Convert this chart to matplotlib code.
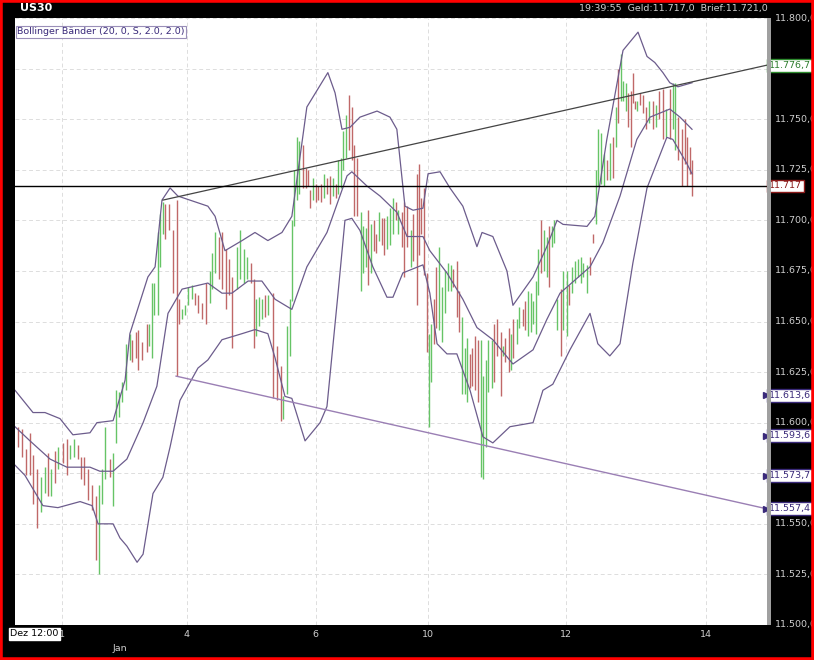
import matplotlib
matplotlib.use("Agg")
import matplotlib.pyplot as plt
from matplotlib.ticker import FixedLocator

# ---- bars (time position, high, low, up?) ----
bar_t = [0.9,2.2,3.6,5,6.1,7.2,8.7,10,10.9,11.9,13.3,14.4,15.9,17.2,18.3,19.8,20.9,22,23.1,24.2,25.6,27,28.1,29.1,30,31.7,32.8,33.6,34.7,35.8,
         37,38.3,39.1,40.2,41.1,42.4,43.9,44.8,45.6,46.4,47.6,48.3,49.2,50,51.3,52.8,53.9,54.7,55.6,56.7,57.8,58.9,60,61.1,62.2,63.6,65,65.6,66.7,68,
         68.9,70.2,71.3,72.4,73.9,75,76.4,77.4,78.7,79.7,80.2,81.3,82.2,83.3,84.4,85.9,87.2,88.7,89.4,90.6,91.7,
         92.2,93,94.1,94.7,95.9,97,97.7,98.5,99.4,100.3,101.1,101.9,103.1,104.1,105,106.1,107,107.7,108.6,109.4,110.5,111.4,112.2,113,114.1,115.2,
         116.1,117,117.7,118.6,119.7,120.5,121.4,122.2,123.1,124.1,125,126.1,127,127.7,128.9,129.7,130.7,131.9,132.7,133.9,134.7,135.5,136.3,137.2,138,
         138.6,139.7,140.5,141.4,142.5,143.3,144.4,145.2,146.1,147.2,148.1,148.9,150,150.7,151.6,152.5,153.3,154.4,155.2,156.1,157,157.7,158.9,159.6,160.7,
         161.9,162.7,163.5,164.7,165.5,166.1,167.2,168.1,169.2,170,171.1,171.9,172.7,173.6,174.4,175.5,176.4,177.2,178.1,178.9,179.6,180.7,
         181.9,182.8,183.9,184.8,185.6,186.7,187.8,188.6,189.4,190.6,191.7,192.8,193.7,
         194.4,195.2,196.3,197.4,198.3,199.2,200.3,201.1,201.9,202.8,203.7,204.4,205.2,206.1,206.7,207.4,208.3,209.2,210.3,211.4,212.6,213.7,214.8,215.9,
         217,218.3,219.4,220,221.1,222.2,223.3,224.1,225,225.8]
bar_hi = [11598,11597,11587,11595,11584,11577,11573,11578,11585,11577,11586,11588,11590,11592,11589,11592,11589,11583,11583,11577,11569,11564,11569,11577,11598,11582,11585,11616,11615,11620,
          11639,11644,11641,11645,11646,11640,11649,11649,11669,11669,11694,11703,11709,11708,11708,11695,11710,11661,11656,11658,11667,11668,11664,11663,11659,11669,11675,11684,11694,11692,
          11694,11686,11681,11672,11687,11695,11686,11682,11679,11671,11661,11662,11661,11663,11663,11664,11638,11628,11613,11648,11661,
          11700,11725,11741,11739,11737,11726,11725,11715,11721,11718,11717,11718,11723,11721,11722,11721,11718,11730,11731,11744,11752,11762,11756,11737,11731,11704,
          11697,11696,11705,11698,11700,11693,11704,11701,11701,11702,11706,11711,11709,11705,11704,11709,11707,11695,11703,11723,11728,11711,11716,11674,11644,
          11649,11661,11677,11687,11667,11675,11679,11678,11676,11680,11665,11652,11637,11642,11634,11637,11643,11641,11641,11623,11631,11641,11641,11649,11651,
          11645,11638,11642,11647,11644,11651,11651,11657,11656,11660,11665,11664,11660,11670,11686,11700,11695,11692,11697,11697,11700,11661,
          11666,11675,11675,11668,11677,11680,11681,11682,11679,11678,11682,11693,11725,
          11745,11743,11733,11730,11738,11741,11756,11775,11782,11769,11768,11763,11764,11773,11759,11759,11763,11762,11756,11759,11759,11757,11764,11765,
          11755,11765,11768,11768,11751,11745,11750,11741,11736,11730]
bar_lo = [11588,11583,11574,11574,11560,11548,11556,11565,11564,11564,11570,11577,11580,11574,11582,11583,11582,11572,11569,11562,11557,11532,11525,11560,11572,11573,11559,11590,11603,11610,
          11616,11631,11630,11632,11626,11631,11635,11638,11632,11653,11653,11677,11693,11691,11695,11664,11623,11649,11651,11653,11658,11661,11658,11654,11651,11649,11659,11666,11674,11671,
          11666,11656,11663,11637,11666,11671,11669,11671,11669,11637,11643,11648,11651,11652,11653,11612,11611,11601,11602,11614,11633,
          11660,11697,11710,11713,11716,11716,11717,11706,11710,11709,11710,11709,11711,11713,11708,11712,11711,11713,11716,11725,11731,11735,11730,11702,11702,11665,
          11674,11677,11668,11674,11685,11684,11690,11688,11683,11686,11688,11693,11700,11693,11687,11672,11687,11677,11680,11658,11683,11693,11673,11635,11598,
          11620,11639,11647,11646,11640,11654,11665,11665,11667,11652,11645,11614,11614,11610,11617,11618,11616,11610,11573,11572,11588,11615,11617,11620,11633,
          11613,11633,11630,11625,11626,11632,11639,11647,11648,11646,11643,11645,11649,11644,11663,11674,11675,11672,11667,11687,11689,11646,
          11633,11646,11643,11658,11664,11669,11672,11669,11672,11664,11673,11689,11698,
          11717,11718,11717,11720,11720,11721,11736,11748,11759,11759,11754,11746,11736,11758,11755,11754,11757,11753,11745,11748,11745,11746,11750,11740,
          11741,11740,11745,11735,11730,11717,11728,11717,11723,11712]
bar_up = "rrrrrrggrgrgrrggrrrrrrgggrggggggrrrrrggggggrrrrrggggrrrrgggrrrrrgggg" \
         "rrgggrgrrrggg" \
         "ggggrrrrgrrrgrrgrggggrrrrgggrgrrgrrgggrgrrrgrrrrrrggrrgggggrrrgggrrrrgggggrrrgrrgrggrrgggggrggrgggr" \
         "ggrggggggrrggg" \
         "grgrgrgggrrrrgrrrgrgrrgrggrrrrrrr"

# ---- Bollinger bands (sampled) ----
up_t = [0,6,10,15,19.3,25,27.3,32.7,36.7,38.3,44.3,46.7,49,51.7,54.3,64.3,66.7,70,75.7,80,84.3,89,92.3,97.3,104.3,106.7,109,111.7,115,120.7,125,127.3,
        130,132.7,136,137.7,141.7,145,149.3,154,155.7,159.3,164,166,172.7,177.3,180.7,182.7,190.7,193.3,197.3,202.7,207.7,210.7,213.3,216,218.3,221,225.7]
up_v = [11616,11605,11605,11602,11594,11595,11600,11601,11621,11644,11672,11677,11710,11716,11712,11707,11702,11685,11690,11694,11690,11694,11702,11756,11773,11763,11745,11746,11751,11754,11751,11745,
        11707,11705,11706,11723,11724,11716,11707,11687,11694,11692,11675,11658,11672,11687,11700,11698,11697,11702,11740,11784,11793,11781,11778,11773,11768,11766,11768]
mid_t = [0,5,11.7,17.3,25,28.3,32.7,37.3,42.7,47.3,51,55.7,64.3,69,72.3,77.7,82.3,86.7,92.3,97.3,104,110.7,112.3,117.3,121.7,127.3,130.7,136,138.3,144,149.3,154,
         159.3,166,172.7,177.3,181.7,191.7,196,201.7,207.3,211.7,218.3,221.7,225.7]
mid_v = [11598,11591,11582,11578,11578,11576,11576,11582,11600,11618,11654,11666,11669,11664,11664,11670,11670,11661,11656,11677,11694,11722,11724,11717,11712,11704,11692,11692,11685,11674,11661,11647,
         11641,11629,11636,11651,11664,11677,11689,11712,11740,11751,11755,11751,11745]
low_t = [0,3.3,9.3,14.3,21.7,25.7,27.7,32.7,35,37.3,40.7,42.7,46,49.3,51.7,55,61,64.3,69,75.7,80,84.3,86.7,90,92.3,96.7,101.7,104,107.7,110,112.3,115,119.3,124,126,
         129.3,136,138.3,140.7,144,147.3,151.7,156,159.3,165,172.7,176,179.3,185,191.7,194.3,198.3,201.7,206,210.7,217.3,219.3,224,225.7]
low_v = [11579,11574,11559,11558,11561,11559,11550,11550,11543,11539,11531,11535,11565,11573,11588,11611,11627,11631,11641,11644,11646,11644,11632,11613,11612,11591,11600,11608,11664,11700,11701,11695,11677,11662,11662,
         11674,11678,11664,11639,11634,11634,11616,11593,11590,11598,11600,11616,11619,11636,11654,11639,11633,11639,11679,11716,11741,11740,11728,11723]

# ---- trend lines / levels ----
upper_trend_t = [49.3, 250.7]
upper_trend_v = [11710, 11776.7]
lower_trend_t = [53.7, 250.7]
lower_trend_v = [11623, 11557.4]
last_price = 11717
marker_levels = [11613.6, 11593.6, 11573.7, 11557.4]

y_ticks = [11500, 11525, 11550, 11575, 11600, 11625, 11650, 11675, 11700, 11725, 11750, 11775, 11800]
x_ticks = [15.7, 57.3, 100.3, 137.7, 183.7, 230.3]
x_labels = ["1", "4", "6", "10", "12", "14"]

plt.rcParams["font.family"] = ["DejaVu Sans"]
FS = 6.8

def fmt(v, d=1):
    s = f"{v:,.{d}f}"
    return s.replace(",", "#").replace(".", ",").replace("#", ".")

W, H = 814, 660
fig = plt.figure(figsize=(W/100, H/100), dpi=100, facecolor="black")
ax = fig.add_axes([15/W, 1-625/H, 752/W, 607/H])
ax.set_facecolor("white")
ax.set_xlim(0, 250.7)
ax.set_ylim(11500, 11800)

GREEN, RED = "#66c466", "#c06868"
cols = [GREEN if c == "g" else RED for c in bar_up]
ax.vlines(bar_t, bar_lo, bar_hi, colors=cols, linewidth=1.0)

band_c = "#6c5c8c"
ax.plot(up_t, up_v, color=band_c, lw=0.9)
ax.plot(mid_t, mid_v, color=band_c, lw=0.9)
ax.plot(low_t, low_v, color=band_c, lw=0.9)

ax.plot(upper_trend_t, upper_trend_v, color="#444444", lw=0.9)
ax.plot(lower_trend_t, lower_trend_v, color="#9a7fb4", lw=1.0)
ax.axhline(last_price, color="black", lw=1.0)

ax.yaxis.set_major_locator(FixedLocator(y_ticks))
ax.xaxis.set_major_locator(FixedLocator(x_ticks))
ax.grid(True, color="#dddddd", linestyle=(0, (4, 3)), lw=0.7)
ax.set_axisbelow(True)
ax.tick_params(left=False, bottom=False, labelleft=False, labelbottom=False)
for s in ax.spines.values():
    s.set_visible(False)

fig.patches.append(plt.Rectangle((767/W, 1-625/H), 4/W, 607/H, transform=fig.transFigure,
                                 fc="#a0a0a0", ec="none"))

for v in y_ticks:
    y = (v - 11500) / 300
    ax.text(1.011, y, fmt(v), transform=ax.transAxes, color="#cfcfcf", fontsize=FS,
            va="center", ha="left", clip_on=False)

def box_label(v, txt, ec, tc):
    ax.text(1.003, (v - 11500) / 300, txt, transform=ax.transAxes, color=tc, fontsize=FS,
            va="center", ha="left", clip_on=False, zorder=5,
            bbox=dict(boxstyle="square,pad=0.2", fc="white", ec=ec, lw=1))

box_label(upper_trend_v[1], fmt(upper_trend_v[1]), "#2e8b2e", "#2e7d2e")
box_label(last_price, f"{last_price/1000:.3f}", "#8b1a1a", "#8b1a1a")
for v in marker_levels:
    y = (v - 11500) / 300
    ax.plot([0.999], [y], marker=">", color="#3a2a7a", ms=4, transform=ax.transAxes, clip_on=False)
    box_label(v, fmt(v), "#3a2a7a", "#3a2a7a")

for t, lab in zip(x_ticks, x_labels):
    ax.text(t, -0.009, lab, transform=ax.get_xaxis_transform(), color="#cfcfcf", fontsize=FS,
            ha="center", va="top", clip_on=False)
ax.text(35, -0.032, "Jan", transform=ax.get_xaxis_transform(), color="#cfcfcf", fontsize=FS,
        ha="center", va="top", clip_on=False)
fig.text(10/W, 1-634/H, "Dez 12:00", color="black", fontsize=FS, va="center", ha="left",
         bbox=dict(boxstyle="square,pad=0.12", fc="white", ec="white"))

fig.text(20/W, 1-8/H, "US30", color="white", fontsize=8, fontweight="bold", va="center")
fig.text(768/W, 1-8/H, "19:39:55  Geld:11.717,0  Brief:11.721,0", color="#cfcfcf", fontsize=FS,
         va="center", ha="right")
ax.text(0.003, 0.985, "Bollinger Bänder (20, 0, S, 2.0, 2.0)", transform=ax.transAxes, color="#3a2a7a",
        fontsize=FS, va="top", ha="left", bbox=dict(boxstyle="square,pad=0.15", fc="white", ec="#9a8fb8", lw=0.8))

fig.patches.append(plt.Rectangle((0, 0), 1, 1, transform=fig.transFigure, fill=False, ec="#ff0000", lw=4))
fig.savefig("out.png", dpi=100, facecolor="black")
